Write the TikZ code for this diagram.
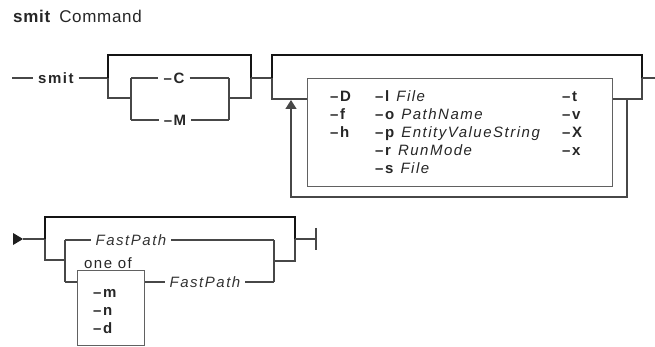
\documentclass[tikz,border=0pt]{standalone}
\usepackage{fontspec}
\setmainfont{Liberation Sans}[LetterSpace=10]
\newfontfamily\titlefont{Liberation Sans}[LetterSpace=4]
\usetikzlibrary{arrows.meta}

\begin{document}
\begin{tikzpicture}[x=1pt,y=-1pt,
  rail/.style={draw=black!72, line width=1.3pt},
  bypass/.style={draw=black!92, line width=2.4pt},
  frame/.style={draw=black!62, line width=1.3pt},
  flag/.style={font={\fontsize{15}{17}\selectfont\bfseries}, text=black!85, inner sep=5pt},
  arg/.style={font={\fontsize{15}{17}\selectfont\itshape}, text=black!80, inner sep=5pt},
  entry/.style={font={\fontsize{15}{17}\selectfont}, text=black!85, inner sep=0pt, anchor=base west}]
\useasboundingbox (0,0) rectangle (655,347);
\node[anchor=base west, inner sep=0pt, font={\titlefont\fontsize{17}{19}\selectfont}, text=black!85] (title) at (13,23) {\textbf{smit}\hspace{3pt} Command};
\node[flag, anchor=west] (cmd) at (33,78) {smit};
\draw[rail] (12,78) -- (cmd.west);
\draw[rail] (cmd.east) -- (108,78);
\draw[bypass] (108,78) -- (108,55) -- (251,55) -- (251,78);
\draw[rail] (108,78) -- (108,98) -- (131,98);
\draw[rail] (251,78) -- (251,98) -- (229,98);
\draw[rail] (131,78) -- (131,120);
\draw[rail] (229,78) -- (229,120);
\node[flag] (optC) at (174,78) {\textendash C};
\node[flag] (optM) at (175,120) {\textendash M};
\draw[rail] (131,78) -- (optC.west);
\draw[rail] (optC.east) -- (229,78);
\draw[rail] (131,120) -- (optM.west);
\draw[rail] (optM.east) -- (229,120);
\draw[rail] (251,78) -- (272,78);
\draw[bypass] (272,78) -- (272,55) -- (642,55) -- (642,78);
\node[frame, inner sep=0pt, minimum width=305pt, minimum height=108pt, anchor=north west] (flags) at (307,78) {};
\draw[rail] (272,78) -- (272,99) -- (flags.west |- 0,99);
\draw[rail] (flags.east |- 0,99) -- (642,99) -- (642,78);
\draw[rail] (642,78) -- (655,78);
\draw[rail, -{Triangle[width=11pt,length=9pt]}] (627,99) -- (627,197) -- (291,197) -- (291,100);
\node[entry, font={\fontsize{15}{17}\selectfont\bfseries}] (fD) at (330,102) {\textendash D};
\node[entry, font={\fontsize{15}{17}\selectfont\bfseries}] (ff) at (330,120) {\textendash f};
\node[entry, font={\fontsize{15}{17}\selectfont\bfseries}] (fh) at (330,138) {\textendash h};
\node[entry] (fl) at (375,102) {\textbf{\textendash l} \textit{File}};
\node[entry] (fo) at (375,120) {\textbf{\textendash o} \textit{PathName}};
\node[entry] (fp) at (375,138) {\textbf{\textendash p} \textit{EntityValueString}};
\node[entry] (fr) at (375,156) {\textbf{\textendash r} \textit{RunMode}};
\node[entry] (fs) at (375,174) {\textbf{\textendash s} \textit{File}};
\node[entry, font={\fontsize{15}{17}\selectfont\bfseries}] (ft) at (562,102) {\textendash t};
\node[entry, font={\fontsize{15}{17}\selectfont\bfseries}] (fv) at (562,120) {\textendash v};
\node[entry, font={\fontsize{15}{17}\selectfont\bfseries}] (fX) at (562,138) {\textendash X};
\node[entry, font={\fontsize{15}{17}\selectfont\bfseries}] (fx) at (562,156) {\textendash x};
\fill[black!88] (13,233) -- (23,239) -- (13,245) -- cycle;
\draw[rail] (23,239) -- (45,239);
\draw[bypass] (45,239) -- (45,217) -- (295,217) -- (295,239);
\draw[rail] (45,239) -- (45,260) -- (65,260);
\draw[rail] (295,239) -- (295,261) -- (274,261);
\draw[rail] (295,239) -- (316,239);
\draw[rail] (316,228) -- (316,250);
\draw[rail] (65,240) -- (65,282);
\draw[rail] (274,240) -- (274,282);
\node[arg] (fast) at (131,240) {FastPath};
\draw[rail] (65,240) -- (fast.west);
\draw[rail] (fast.east) -- (274,240);
\node[frame, inner sep=0pt, minimum width=67pt, minimum height=75pt, anchor=north west] (oneof) at (77,270) {};
\node[entry, anchor=base] (oneoflabel) at (108,268) {one of};
\draw[rail] (65,282) -- (oneof.west |- 0,282);
\node[entry, font={\fontsize{15}{17}\selectfont\bfseries}] (fm) at (93,297) {\textendash m};
\node[entry, font={\fontsize{15}{17}\selectfont\bfseries}] (fn) at (93,315) {\textendash n};
\node[entry, font={\fontsize{15}{17}\selectfont\bfseries}] (fd) at (93,333) {\textendash d};
\node[arg] (fastb) at (205,282) {FastPath};
\draw[rail] (oneof.east |- 0,282) -- (fastb.west);
\draw[rail] (fastb.east) -- (274,282);
\end{tikzpicture}
\end{document}
